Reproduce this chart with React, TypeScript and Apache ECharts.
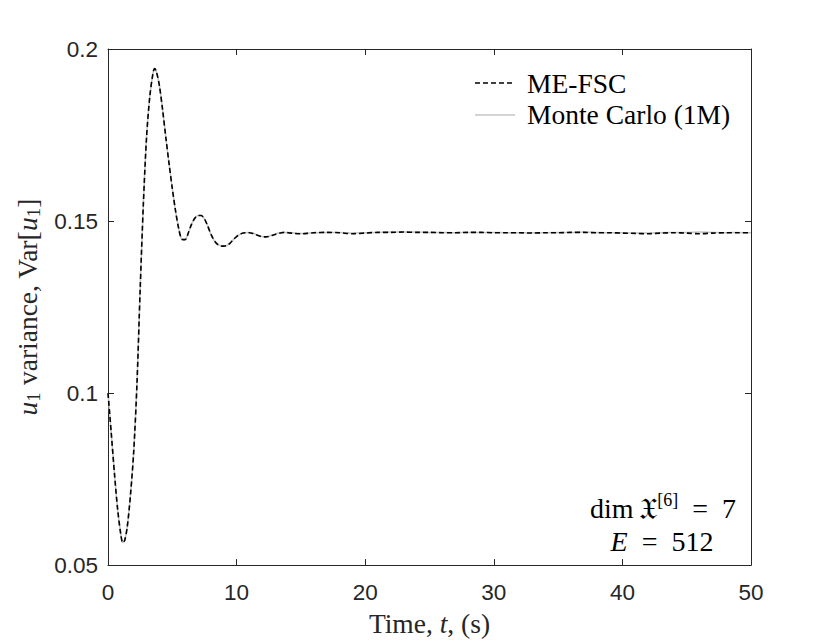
import React, { useEffect, useRef } from "react";
import * as echarts from "echarts";

// Time samples (s)
const timeS: number[] = [
  0, 0.25, 0.5, 0.75, 1, 1.15, 1.3, 1.5, 1.75, 2, 2.25, 2.5, 2.75, 3, 3.25, 3.5, 3.625, 3.75,
  4, 4.25, 4.5, 4.75, 5, 5.25, 5.5, 5.75, 6, 6.25, 6.5, 6.75, 7, 7.25, 7.5, 7.75, 8, 8.25,
  8.5, 8.75, 9, 9.25, 9.5, 9.75, 10, 10.25, 10.5, 10.75, 11, 11.25, 11.5, 11.75, 12, 12.25,
  12.5, 12.75, 13, 13.25, 13.5, 13.75, 14, 14.5, 15, 15.5, 16, 17, 18, 19, 20, 21, 22, 23,
  24, 25, 26, 27, 28, 29, 30, 31, 32, 33, 34, 35, 36, 37, 38, 39, 40, 41, 42, 43, 44, 45,
  46, 47, 48, 49, 50,
];

// ME-FSC variance of u1
const meFsc: number[] = [
  0.1, 0.0885, 0.0767, 0.0662, 0.0588, 0.0565, 0.0572, 0.0612, 0.0705, 0.083, 0.1025, 0.13,
  0.155, 0.1745, 0.1862, 0.193, 0.1943, 0.1936, 0.1893, 0.1822, 0.1742, 0.1666, 0.1595, 0.153,
  0.1478, 0.1447, 0.1446, 0.1466, 0.1491, 0.1508, 0.1516, 0.1516, 0.1506, 0.1486, 0.1462,
  0.1444, 0.1433, 0.1428, 0.1427, 0.1429, 0.1436, 0.1446, 0.1455, 0.1461, 0.1465, 0.1466,
  0.1466, 0.1464, 0.146, 0.1457, 0.1454, 0.1454, 0.1455, 0.1458, 0.1461, 0.1464, 0.1466,
  0.1467, 0.1466, 0.1464, 0.1463, 0.1464, 0.1466, 0.1467, 0.1466, 0.1463, 0.1465, 0.1467,
  0.1467, 0.1468, 0.1467, 0.1467, 0.1466, 0.1466, 0.1467, 0.1467, 0.1466, 0.1466, 0.1466,
  0.1465, 0.1466, 0.1466, 0.1467, 0.1467, 0.1466, 0.1466, 0.1465, 0.1464, 0.1463, 0.1465,
  0.1466, 0.1465, 0.1463, 0.1465, 0.1466, 0.1466, 0.1466,
];

// Monte Carlo (1M) variance of u1
const monteCarlo: number[] = [
  0.1, 0.0885, 0.0767, 0.0662, 0.0588, 0.0565, 0.0572, 0.0612, 0.0705, 0.083, 0.1025, 0.13,
  0.155, 0.1745, 0.1862, 0.193, 0.1943, 0.1936, 0.1893, 0.1822, 0.1742, 0.1666, 0.1595, 0.153,
  0.1478, 0.1447, 0.1446, 0.1466, 0.1491, 0.1508, 0.1516, 0.1516, 0.1506, 0.1486, 0.1462,
  0.1444, 0.1433, 0.1428, 0.1427, 0.1429, 0.1436, 0.1446, 0.1455, 0.1461, 0.1465, 0.1466,
  0.1467, 0.1465, 0.1461, 0.1457, 0.1455, 0.1454, 0.1456, 0.1459, 0.1462, 0.1465, 0.1467,
  0.1467, 0.1467, 0.1465, 0.1464, 0.1465, 0.1466, 0.1467, 0.1467, 0.1465, 0.1466, 0.1467,
  0.1468, 0.1468, 0.1468, 0.1467, 0.1467, 0.1466, 0.1467, 0.1467, 0.1467, 0.1466, 0.1466,
  0.1466, 0.1466, 0.1467, 0.1467, 0.1468, 0.1467, 0.1466, 0.1466, 0.1465, 0.1465, 0.1466,
  0.1467, 0.1467, 0.1468, 0.1467, 0.1466, 0.1467, 0.1466,
];

const seriesNames: string[] = ["ME-FSC", "Monte Carlo (1M)"];
const xTicks = { min: 0, max: 50, interval: 10 };
const yTicks = { min: 0.05, max: 0.2, interval: 0.05 };

const AXIS_COLOR = "#262626";
const MC_COLOR = "#c4c4c4";
const SERIF = "'Liberation Serif', 'DejaVu Serif', serif";
const SANS = "'Liberation Sans', Arial, sans-serif";
const TXT = 27.5;
const EQ = "\u2002=\u2002";

export default function App() {
  const ref = useRef<HTMLDivElement>(null);

  useEffect(() => {
    if (!ref.current) return;
    const chart = echarts.init(ref.current, undefined, { renderer: "svg" });

    const mePairs = timeS.map((t, i) => [t, meFsc[i]]);
    const mcPairs = timeS.map((t, i) => [t, monteCarlo[i]]);

    const baseX = {
      type: "value" as const,
      min: xTicks.min,
      max: xTicks.max,
      interval: xTicks.interval,
      axisLine: { show: true, onZero: false, lineStyle: { color: AXIS_COLOR, width: 1 } },
      axisTick: { show: true, inside: true, length: 6, lineStyle: { color: AXIS_COLOR } },
      splitLine: { show: false },
    };
    const baseY = {
      type: "value" as const,
      min: yTicks.min,
      max: yTicks.max,
      interval: yTicks.interval,
      axisLine: { show: true, onZero: false, lineStyle: { color: AXIS_COLOR, width: 1 } },
      axisTick: { show: true, inside: true, length: 6, lineStyle: { color: AXIS_COLOR } },
      splitLine: { show: false },
    };

    const legendLeft = 475;
    const legendRows = [83, 115];

    chart.setOption({
      animation: false,
      backgroundColor: "#ffffff",
      grid: { left: 108, top: 49, right: 79, bottom: 71, containLabel: false },
      xAxis: [
        {
          ...baseX,
          position: "bottom",
          axisLabel: {
            show: true,
            color: AXIS_COLOR,
            fontFamily: SANS,
            fontSize: 22.5,
            margin: 16,
          },
          name: "{n|Time, }{i|t}{n|, (s)}",
          nameLocation: "middle",
          nameGap: 41,
          nameTextStyle: {
            rich: {
              n: { fontFamily: SERIF, fontSize: TXT, color: AXIS_COLOR },
              i: { fontFamily: SERIF, fontSize: TXT, fontStyle: "italic", color: AXIS_COLOR },
            },
          },
        },
        { ...baseX, position: "top", axisLabel: { show: false } },
      ],
      yAxis: [
        {
          ...baseY,
          position: "left",
          axisLabel: {
            show: true,
            color: AXIS_COLOR,
            fontFamily: SANS,
            fontSize: 22.5,
            margin: 10,
            formatter: (v: number) => String(+v.toFixed(2)),
          },
          name: "{i|u}{s|1}{n| variance, Var[}{i|u}{s|1}{n|]}",
          nameLocation: "middle",
          nameGap: 51,
          nameTextStyle: {
            rich: {
              n: { fontFamily: SERIF, fontSize: TXT, color: AXIS_COLOR, lineHeight: 32 },
              i: {
                fontFamily: SERIF,
                fontSize: TXT,
                fontStyle: "italic",
                color: AXIS_COLOR,
                lineHeight: 32,
              },
              s: {
                fontFamily: SERIF,
                fontSize: 19,
                color: AXIS_COLOR,
                lineHeight: 19,
                verticalAlign: "bottom",
              },
            },
          },
        },
        { ...baseY, position: "right", axisLabel: { show: false } },
      ],
      series: [
        {
          name: seriesNames[1],
          type: "line",
          data: mcPairs,
          xAxisIndex: 0,
          yAxisIndex: 0,
          showSymbol: false,
          symbol: "none",
          smooth: 0.3,
          z: 2,
          itemStyle: { color: MC_COLOR },
          lineStyle: { color: MC_COLOR, width: 1.5, type: "solid" },
        },
        {
          name: seriesNames[0],
          type: "line",
          data: mePairs,
          xAxisIndex: 0,
          yAxisIndex: 0,
          showSymbol: false,
          symbol: "none",
          smooth: 0.3,
          z: 3,
          itemStyle: { color: "#000" },
          lineStyle: { color: "#000000", width: 1.6, type: [5, 3] },
        },
      ],
      graphic: [
        {
          type: "line",
          shape: { x1: legendLeft, y1: legendRows[0], x2: legendLeft + 40, y2: legendRows[0] },
          style: { stroke: "#000", lineWidth: 1.6, lineDash: [5, 3] },
        },
        {
          type: "text",
          x: legendLeft + 52,
          y: legendRows[0],
          style: {
            text: seriesNames[0],
            fontFamily: SERIF,
            fontSize: TXT,
            fill: "#000",
            verticalAlign: "middle",
          },
        },
        {
          type: "line",
          shape: { x1: legendLeft, y1: legendRows[1], x2: legendLeft + 40, y2: legendRows[1] },
          style: { stroke: MC_COLOR, lineWidth: 1.5 },
        },
        {
          type: "text",
          x: legendLeft + 52,
          y: legendRows[1] - 1,
          style: {
            text: seriesNames[1],
            fontFamily: SERIF,
            fontSize: TXT,
            fill: "#000",
            verticalAlign: "middle",
          },
        },
        {
          type: "text",
          x: 663,
          y: 508,
          style: {
            text: "{n|dim\u2009}{f|𝔛}{sup|[6]}{n|" + EQ + "7}",
            align: "center",
            verticalAlign: "middle",
            rich: {
              n: { fontFamily: SERIF, fontSize: 28, fill: "#000", lineHeight: 34 },
              f: { fontFamily: SERIF, fontSize: 30, fill: "#000", lineHeight: 34 },
              sup: {
                fontFamily: SERIF,
                fontSize: 18,
                fill: "#000",
                lineHeight: 18,
                verticalAlign: "top",
              },
            },
          },
        },
        {
          type: "text",
          x: 662,
          y: 541,
          style: {
            text: "{i|E}{n|" + EQ + "512}",
            align: "center",
            verticalAlign: "middle",
            rich: {
              n: { fontFamily: SERIF, fontSize: 28, fill: "#000", lineHeight: 34 },
              i: { fontFamily: SERIF, fontSize: 28, fontStyle: "italic", fill: "#000", lineHeight: 34 },
            },
          },
        },
      ],
    });

    return () => chart.dispose();
  }, []);

  return (
    <div
      ref={ref}
      style={{ position: "absolute", left: 0, top: 0, width: 830, height: 642, background: "#fff" }}
    />
  );
}
